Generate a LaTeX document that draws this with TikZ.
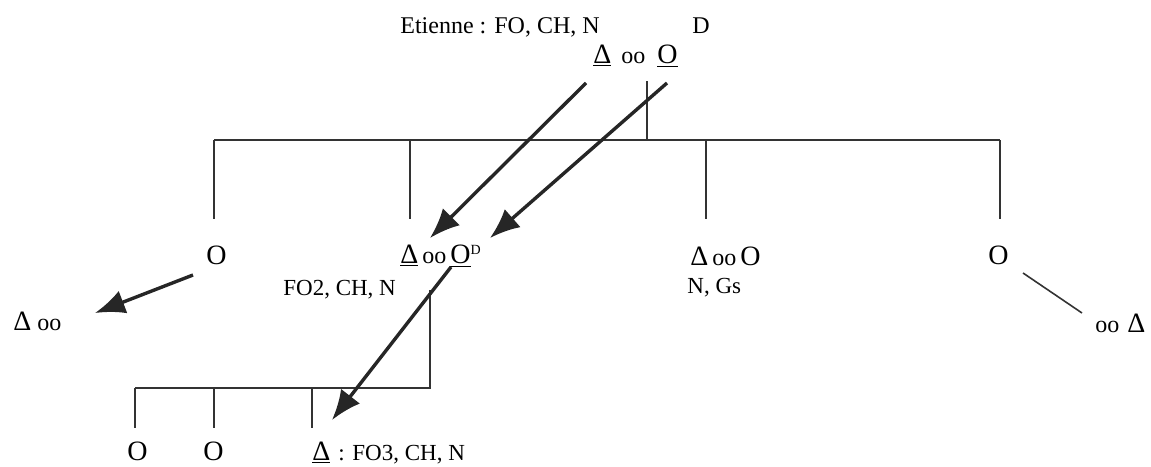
\documentclass[tikz,border=0pt]{standalone}
\usepackage{fontspec}
\setmainfont{Liberation Serif}
\usetikzlibrary{arrows.meta,positioning}

\tikzset{
  txt/.style={anchor=base west, inner sep=0pt, font=\fontsize{12}{14}\selectfont},
  small/.style={txt, font=\fontsize{11.5}{13}\selectfont},
  kin/.style={line width=0.8pt, draw=black!80},
  descent/.style={line width=1.7pt, draw=black!85, -{Latex[length=15pt,width=12pt]}},
}
\newcommand{\bigsym}[1]{{\fontsize{14}{16}\selectfont #1}}
\newcommand{\smallo}{{\fontsize{12}{14}\selectfont oo}}

\begin{document}
\begin{tikzpicture}[x=0.5pt,y=-0.5pt]
    \useasboundingbox (0,0) rectangle (1151,466);

    % Top couple
    \node[txt] (etienne) at (400,33) {Etienne : FO, CH, N};
    \node[txt] (dlabel) at (692,33) {D};
    \node[txt] (couple) at (593,63) {\bigsym{\underline{Δ}}\hspace{5pt}\smallo\hspace{6pt}\bigsym{\underline{O}}};

    % Sibling bar
    \coordinate (drop) at (647,81);
    \coordinate (bar) at (647,140);
    \draw[kin] (drop) -- (bar);
    \draw[kin] (214,140) -- (1000,140);
    \foreach \x in {214,410,706,1000} {
        \draw[kin] (\x,140) -- (\x,219);
    }

    % Children
    \node[txt] (sisterA) at (206,264) {\bigsym{O}};
    \node[txt] (ego) at (400,263) {\bigsym{\underline{Δ}}\hspace{2pt}\smallo\hspace{2pt}\bigsym{\underline{O}}\textsuperscript{\fontsize{7}{8}\selectfont D}};
    \node[small] (egolabel) at (283,295) {FO2, CH, N};
    \node[txt] (brother) at (690,265) {\bigsym{Δ}\hspace{2pt}\smallo\hspace{2pt}\bigsym{O}};
    \node[small] (brotherlabel) at (687,293) {N, Gs};
    \node[txt] (sisterB) at (988,264) {\bigsym{O}};

    % Spouses
    \node[txt] (spouseA) at (13,330) {\bigsym{Δ}\hspace{3pt}\smallo};
    \node[txt] (spouseB) at (1095,332) {\smallo\hspace{4pt}\bigsym{Δ}};
    \coordinate (bs) at (1023,273);
    \coordinate (be) at (1082,313);
    \draw[kin] (bs) -- (be);

    % Grandchildren bar
    \coordinate (egodrop) at (430,290);
    \coordinate (egobar) at (430,388);
    \draw[kin] (egodrop) -- (egobar) -- (135,388);
    \foreach \x in {135,214,312} {
        \draw[kin] (\x,388) -- (\x,428);
    }
    \node[txt] (gcA) at (127,460) {\bigsym{O}};
    \node[txt] (gcB) at (203,460) {\bigsym{O}};
    \node[txt] (gcC) at (312,460) {\bigsym{\underline{Δ}}\hspace{4pt}{\fontsize{11.5}{13}\selectfont : FO3, CH, N}};

    % Transmission arrows
    \coordinate (a1s) at (586,83);
    \coordinate (a1e) at (430,238);
    \coordinate (a2s) at (667,83);
    \coordinate (a2e) at (490,238);
    \coordinate (a3s) at (451,267);
    \coordinate (a3e) at (332,420);
    \coordinate (a4s) at (193,275);
    \coordinate (a4e) at (95,313);
    \draw[descent] (a1s) -- (a1e);
    \draw[descent] (a2s) -- (a2e);
    \draw[descent] (a3s) -- (a3e);
    \draw[descent] (a4s) -- (a4e);
\end{tikzpicture}
\end{document}
